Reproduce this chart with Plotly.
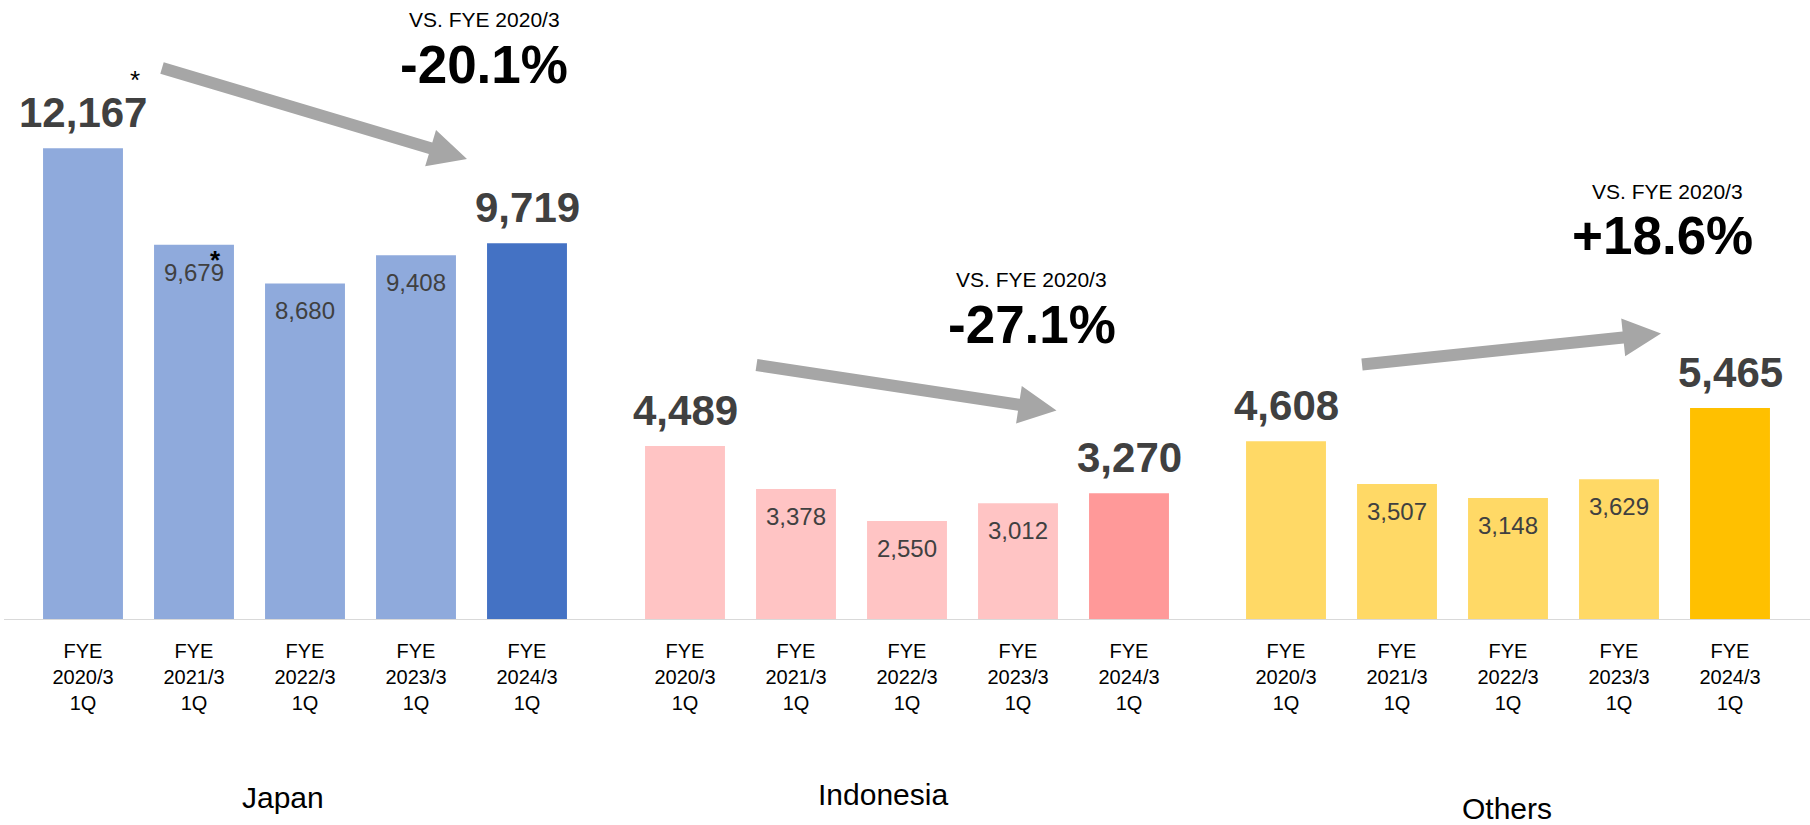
import math
import plotly.graph_objects as go

# data
periods = ["FYE<br>2020/3<br>1Q", "FYE<br>2021/3<br>1Q", "FYE<br>2022/3<br>1Q",
           "FYE<br>2023/3<br>1Q", "FYE<br>2024/3<br>1Q"]
japan = [12167, 9679, 8680, 9408, 9719]
indonesia = [4489, 3378, 2550, 3012, 3270]
others = [4608, 3507, 3148, 3629, 5465]
regions = ["Japan", "Indonesia", "Others"]
changes = ["-20.1%", "-27.1%", "+18.6%"]
compare_note = "VS. FYE 2020/3"

W, H = 1810, 825
FONT = "Liberation Sans, Arial, sans-serif"
LABEL_GRAY = "#404040"
ARROW_GRAY = "#A6A6A6"


def px(x):
    return x / W


def py(y):
    return 1 - y / H


def block_arrow(tail, tip, shaft=12, head_len=38, head_w=38):
    dx, dy = tip[0] - tail[0], tip[1] - tail[1]
    d = math.hypot(dx, dy)
    ux, uy = dx / d, dy / d
    nx, ny = -uy, ux
    bx, by = tip[0] - ux * head_len, tip[1] - uy * head_len
    pts = [
        (tail[0] + nx * shaft / 2, tail[1] + ny * shaft / 2),
        (bx + nx * shaft / 2, by + ny * shaft / 2),
        (bx + nx * head_w / 2, by + ny * head_w / 2),
        tip,
        (bx - nx * head_w / 2, by - ny * head_w / 2),
        (bx - nx * shaft / 2, by - ny * shaft / 2),
        (tail[0] - nx * shaft / 2, tail[1] - ny * shaft / 2),
    ]
    path = "M " + " L ".join(f"{px(x):.5f},{py(y):.5f}" for x, y in pts) + " Z"
    return dict(type="path", path=path, xref="paper", yref="paper",
                fillcolor=ARROW_GRAY, line=dict(width=0), layer="above")


series = [japan, indonesia, others]
light = ["#8FAADC", "#FFC4C4", "#FFD966"]
dark = ["#4472C4", "#FF9999", "#FFC000"]
xaxes = ["x", "x2", "x3"]
domains = [(27.5, 582.5), (629.5, 1184.5), (1230.5, 1785.5)]

fig = go.Figure()
annotations = []

for k, vals in enumerate(series):
    fig.add_trace(go.Bar(
        x=periods,
        y=vals,
        xaxis=xaxes[k],
        yaxis="y",
        width=0.72,
        marker=dict(color=[light[k]] * 4 + [dark[k]], line=dict(width=0)),
        hoverinfo="skip",
        showlegend=False,
    ))
    for i, v in enumerate(vals):
        if i in (0, len(vals) - 1):
            annotations.append(dict(
                xref=xaxes[k], yref="y", x=periods[i], y=v,
                text=f"<b>{v:,}</b>", showarrow=False,
                yanchor="bottom", yshift=10,
                font=dict(family=FONT, size=42, color=LABEL_GRAY)))
        else:
            annotations.append(dict(
                xref=xaxes[k], yref="y", x=periods[i], y=v,
                text=f"{v:,}", showarrow=False,
                yanchor="top", yshift=-12,
                font=dict(family=FONT, size=24, color=LABEL_GRAY)))

# footnote marks
annotations.append(dict(xref="x", yref="y", x=periods[0], y=japan[0], text="*",
                        showarrow=False, yanchor="middle", xshift=52, yshift=68,
                        font=dict(family=FONT, size=26, color="black")))
annotations.append(dict(xref="x", yref="y", x=periods[1], y=japan[1], text="<b>*</b>",
                        showarrow=False, yanchor="middle", xshift=21, yshift=-15,
                        font=dict(family=FONT, size=26, color="black")))

# comparison notes
note_pos = [(485, 19), (1031, 280), (1667, 192)]
pct_pos = [(484, 64), (1032, 324), (1662, 235)]
for k in range(3):
    annotations.append(dict(xref="paper", yref="paper", x=px(note_pos[k][0]), y=py(note_pos[k][1]),
                            text=compare_note, showarrow=False, xanchor="center", yanchor="middle",
                            font=dict(family=FONT, size=21, color="black")))
    annotations.append(dict(xref="paper", yref="paper", x=px(pct_pos[k][0]), y=py(pct_pos[k][1]),
                            text=f"<b>{changes[k]}</b>", showarrow=False, xanchor="center",
                            yanchor="middle", font=dict(family=FONT, size=53, color="black")))

# region labels
region_pos = [(283, 797), (883, 794), (1507, 808)]
for k, name in enumerate(regions):
    annotations.append(dict(xref="paper", yref="paper", x=px(region_pos[k][0]), y=py(region_pos[k][1]),
                            text=name, showarrow=False, xanchor="center", yanchor="middle",
                            font=dict(family=FONT, size=30, color="black")))

shapes = [
    block_arrow((162, 68), (467, 159)),
    block_arrow((756.5, 365), (1056.5, 410.5)),
    block_arrow((1362, 364.5), (1661, 333.5)),
    dict(type="line", xref="paper", yref="y", x0=px(4), x1=1, y0=0, y1=0,
         line=dict(color="#D9D9D9", width=2), layer="above"),
]

base_y = 620
axis_common = dict(type="category", range=[-0.5, 4.5], showgrid=False, zeroline=False,
                   showline=False, ticks="", anchor="y", automargin=False,
                   ticklabelstandoff=17,
                   tickfont=dict(family=FONT, size=20, color="black"), fixedrange=True)

fig.update_layout(
    width=W, height=H,
    template="none",
    paper_bgcolor="white", plot_bgcolor="white",
    margin=dict(l=0, r=0, t=0, b=0, pad=0),
    showlegend=False,
    xaxis=dict(domain=[px(domains[0][0]), px(domains[0][1])], **axis_common),
    xaxis2=dict(domain=[px(domains[1][0]), px(domains[1][1])], **axis_common),
    xaxis3=dict(domain=[px(domains[2][0]), px(domains[2][1])], **axis_common),
    yaxis=dict(domain=[py(base_y), 1], range=[0, 15989], visible=False,
               showgrid=False, zeroline=False, automargin=False, fixedrange=True),
    annotations=annotations,
    shapes=shapes,
)

# the page's default body margin would shift the figure by 8px
fig.write_html("out.html", config={"displayModeBar": False},
               post_script="document.body.style.margin='0';")
